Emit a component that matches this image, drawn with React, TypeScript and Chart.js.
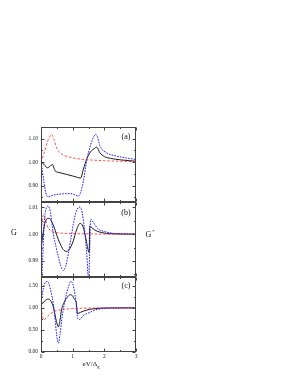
import React, { useEffect, useRef } from "react";
import { Chart, registerables } from "chart.js";
Chart.register(...registerables);

// axis ticks
const xTickValues = [0, 1, 2, 3];
const aTicks = [0.9, 1.0, 1.1];
const bTicks = [0.99, 1.0, 1.01];
const cTicks = [0, 0.5, 1.0, 1.5];
const aRange = [0.83, 1.15];
const bRange = [0.984, 1.012];
const cRange = [0, 1.7];
const panelLabels = ["(a)", "(b)", "(c)"];

// panel (a)
const aBlackX = [0, 0.1, 0.2, 0.28, 0.36, 0.44, 0.6, 0.8, 1.0, 1.15, 1.25, 1.34, 1.44, 1.57, 1.68, 1.76, 1.86, 2.0, 2.2, 2.5, 3.0];
const aBlackY = [1.0, 0.99, 0.976, 0.982, 0.99, 0.964, 0.955, 0.948, 0.941, 0.935, 0.932, 0.97, 1.013, 1.045, 1.058, 1.064, 1.04, 1.024, 1.016, 1.01, 1.004];
const aRedX = [0, 0.1, 0.2, 0.28, 0.34, 0.4, 0.5, 0.6, 0.75, 0.92, 1.2, 1.5, 2.0, 2.5, 3.0];
const aRedY = [1.0, 1.04, 1.085, 1.11, 1.118, 1.1, 1.06, 1.04, 1.028, 1.021, 1.014, 1.01, 1.006, 1.004, 1.002];
const aBlueX = [0, 0.08, 0.15, 0.22, 0.35, 0.5, 0.7, 0.9, 1.05, 1.18, 1.25, 1.34, 1.44, 1.57, 1.65, 1.72, 1.78, 1.86, 2.07, 2.39, 3.0];
const aBlueY = [1.0, 0.93, 0.87, 0.852, 0.858, 0.862, 0.865, 0.866, 0.862, 0.855, 0.87, 0.92, 1.004, 1.075, 1.105, 1.118, 1.11, 1.07, 1.04, 1.026, 1.011];

// panel (b)
const bBlackX = [0, 0.05, 0.12, 0.2, 0.26, 0.32, 0.4, 0.5, 0.6, 0.7, 0.81, 0.92, 1.02, 1.12, 1.23, 1.32, 1.41, 1.47, 1.52, 1.54, 1.6, 1.7, 1.85, 2.0, 2.3, 3.0];
const bBlackY = [0.9944, 0.999, 1.004, 1.0058, 1.0059, 1.005, 1.003, 0.9995, 0.9965, 0.9943, 0.9935, 0.9948, 0.9975, 1.0015, 1.004, 1.003, 0.9988, 0.995, 0.9932, 1.003, 1.0025, 1.0015, 1.0008, 1.0004, 1.0001, 1.0];
const bRedX = [0, 0.04, 0.08, 0.14, 0.2, 0.28, 0.4, 0.6, 1.0, 1.5, 2.0, 3.0];
const bRedY = [1.0, 1.005, 1.0072, 1.0055, 1.003, 1.0015, 1.0008, 1.0004, 1.0002, 1.0001, 1.0, 1.0];
const bBlueX = [0, 0.05, 0.1, 0.16, 0.23, 0.3, 0.39, 0.47, 0.55, 0.63, 0.7, 0.78, 0.86, 0.94, 1.02, 1.1, 1.17, 1.23, 1.3, 1.36, 1.41, 1.46, 1.5, 1.53, 1.57, 1.62, 1.7, 1.8, 2.0, 2.3, 3.0];
const bBlueY = [0.978, 0.99, 1.004, 1.0095, 1.0105, 1.008, 1.0, 0.9955, 0.9914, 0.988, 0.9864, 0.988, 0.9925, 0.998, 1.0037, 1.008, 1.0098, 1.0101, 1.008, 1.003, 0.9975, 0.99, 0.982, 0.99, 1.0056, 1.005, 1.0035, 1.002, 1.001, 1.0003, 1.0];

// panel (c)
const cBlackX = [0, 0.05, 0.12, 0.23, 0.3, 0.39, 0.47, 0.55, 0.6, 0.65, 0.75, 0.85, 0.92, 1.0, 1.05, 1.11, 1.15, 1.25, 1.44, 1.6, 1.8, 2.2, 3.0];
const cBlackY = [1.18, 1.1, 1.16, 1.2, 1.17, 1.02, 0.75, 0.57, 0.72, 0.96, 1.15, 1.26, 1.3, 1.27, 1.2, 1.13, 0.87, 0.9, 0.95, 0.975, 0.99, 0.998, 1.0];
const cRedX = [0, 0.04, 0.09, 0.15, 0.22, 0.3, 0.4, 0.5, 0.65, 0.8, 1.0, 1.3, 1.7, 2.2, 3.0];
const cRedY = [1.1, 0.85, 0.73, 0.76, 0.82, 0.87, 0.91, 0.94, 0.96, 0.975, 0.985, 0.992, 0.997, 1.0, 1.0];
const cBlueX = [0, 0.05, 0.1, 0.18, 0.25, 0.32, 0.39, 0.45, 0.5, 0.55, 0.6, 0.65, 0.7, 0.78, 0.86, 0.94, 1.0, 1.07, 1.12, 1.16, 1.22, 1.34, 1.45, 1.55, 1.7, 1.9, 2.2, 3.0];
const cBlueY = [1.1, 1.35, 1.52, 1.6, 1.55, 1.35, 1.09, 0.7, 0.35, 0.2, 0.4, 0.7, 0.94, 1.25, 1.46, 1.6, 1.55, 1.32, 1.05, 0.76, 0.74, 0.83, 0.87, 0.9, 0.95, 0.98, 0.995, 1.0];

const pts = (xs: number[], ys: number[]) => xs.map((x, i) => ({ x, y: ys[i] }));

const SERIF = '"Liberation Serif", "Times New Roman", serif';

const panels: [string, number[], number][] = [
  ["ya", aTicks, 0.05],
  ["yb", bTicks, 0.005],
  ["yc", cTicks, 0.25],
];

const framePlugin = {
  id: "frames",
  beforeDatasetDraw(chart: any, args: any) {
    const ds = chart.data.datasets[args.index];
    const s = chart.scales[ds.yAxisID];
    const a = chart.chartArea;
    const ctx = chart.ctx;
    ctx.save();
    ctx.beginPath();
    ctx.rect(a.left, s.top, a.right - a.left, s.bottom - s.top);
    ctx.clip();
  },
  afterDatasetDraw(chart: any) {
    chart.ctx.restore();
  },
  afterDraw(chart: any) {
    const ctx = chart.ctx;
    const a = chart.chartArea;
    const xs = chart.scales.x;
    ctx.save();
    ctx.strokeStyle = "#444";
    ctx.lineWidth = 1;
    const left = Math.round(a.left) + 0.5;
    const right = Math.round(a.right) - 0.5;
    for (const [id, major, step] of panels) {
      const s = chart.scales[id];
      const top = Math.round(s.top) + 0.5;
      const bottom = Math.round(s.bottom) - 0.5;
      ctx.strokeRect(left, top, right - left, bottom - top);
      ctx.beginPath();
      const start = Math.ceil(s.min / step - 1e-6) * step;
      for (let v = start; v <= s.max + 1e-9; v += step) {
        const isMajor = major.some((m) => Math.abs(m - v) < step / 10);
        const len = isMajor ? 3 : 1.5;
        const y = Math.round(s.getPixelForValue(v)) + 0.5;
        ctx.moveTo(left, y);
        ctx.lineTo(left + len, y);
        ctx.moveTo(right, y);
        ctx.lineTo(right - len, y);
      }
      for (let v = 0; v <= 3 + 1e-9; v += 0.5) {
        const isMajor = Math.abs(v - Math.round(v)) < 0.01;
        const len = isMajor ? 3 : 1.5;
        const x = Math.round(xs.getPixelForValue(v)) + 0.5;
        ctx.moveTo(x, bottom);
        ctx.lineTo(x, bottom - len);
        ctx.moveTo(x, top);
        ctx.lineTo(x, top + len);
      }
      ctx.stroke();
    }
    ctx.restore();
  },
};

function yScale(range: number[], ticks: number[]) {
  return {
    type: "linear" as const,
    position: "left" as const,
    stack: "panels",
    stackWeight: 1,
    min: range[0],
    max: range[1],
    afterBuildTicks: (s: any) => {
      s.ticks = ticks.map((v) => ({ value: v }));
    },
    afterFit: (s: any) => {
      s.width = 20;
    },
    grid: { display: false, drawTicks: false },
    border: { display: false },
    ticks: {
      autoSkip: false,
      padding: 3,
      color: "#222",
      font: { family: SERIF, size: 5.5 },
      callback: (v: any) => Number(v).toFixed(2),
    },
  };
}

function line(data: any[], axis: string, kind: "black" | "red" | "blue") {
  const style =
    kind === "black"
      ? { borderColor: "#000000", borderWidth: 0.9, borderDash: [] as number[] }
      : kind === "red"
      ? { borderColor: "#ff2020", borderWidth: 0.8, borderDash: [2.5, 1.8] }
      : { borderColor: "#1a1aff", borderWidth: 1.0, borderDash: [1.6, 1.2] };
  return {
    data,
    yAxisID: axis,
    pointRadius: 0,
    fill: false,
    cubicInterpolationMode: "monotone" as const,
    clip: false as const,
    ...style,
  };
}

export default function App() {
  const ref = useRef<HTMLCanvasElement>(null);
  useEffect(() => {
    if (!ref.current) return;
    const chart = new Chart(ref.current, {
      type: "line",
      data: {
        datasets: [
          line(pts(aRedX, aRedY), "ya", "red"),
          line(pts(aBlueX, aBlueY), "ya", "blue"),
          line(pts(aBlackX, aBlackY), "ya", "black"),
          line(pts(bRedX, bRedY), "yb", "red"),
          line(pts(bBlueX, bBlueY), "yb", "blue"),
          line(pts(bBlackX, bBlackY), "yb", "black"),
          line(pts(cRedX, cRedY), "yc", "red"),
          line(pts(cBlueX, cBlueY), "yc", "blue"),
          line(pts(cBlackX, cBlackY), "yc", "black"),
        ] as any,
      },
      options: {
        responsive: false,
        animation: false,
        events: [],
        layout: { padding: { left: 21, right: 155, top: 127, bottom: 12 } },
        plugins: { legend: { display: false }, tooltip: { enabled: false }, title: { display: false } },
        scales: {
          x: {
            type: "linear",
            position: "bottom",
            min: 0,
            max: 3,
            afterBuildTicks: (s: any) => {
              s.ticks = xTickValues.map((v) => ({ value: v }));
            },
            afterFit: (s: any) => {
              s.height = 12;
            },
            grid: { display: false, drawTicks: false },
            border: { display: false },
            ticks: {
              autoSkip: false,
              padding: 1,
              maxRotation: 0,
              color: "#222",
              font: { family: SERIF, size: 5.5 },
              callback: (v: any) => String(v),
            },
          },
          yc: yScale(cRange, cTicks),
          yb: yScale(bRange, bTicks),
          ya: yScale(aRange, aTicks),
        } as any,
      },
      plugins: [framePlugin],
    });
    return () => chart.destroy();
  }, []);

  const txt = (left: number, top: number, size: number): React.CSSProperties => ({
    position: "absolute",
    left,
    top,
    transform: "translate(-50%, -50%)",
    fontFamily: SERIF,
    fontSize: size,
    lineHeight: 1,
    color: "#111",
    whiteSpace: "nowrap",
  });

  return (
    <div style={{ position: "fixed", left: 0, top: 0, width: 291, height: 376, background: "#fff" }}>
      <canvas ref={ref} width={291} height={376} style={{ display: "block", width: 291, height: 376 }} />
      <div style={txt(126, 137, 8)}>{panelLabels[0]}</div>
      <div style={txt(126, 213, 8)}>{panelLabels[1]}</div>
      <div style={txt(126, 286, 8)}>{panelLabels[2]}</div>
      <div style={txt(14, 233, 8)}>G</div>
      <div style={txt(150, 233.5, 8)}>
        G<span style={{ fontSize: 5, verticalAlign: "super", marginLeft: 0.5 }}>*</span>
      </div>
      <div style={txt(91, 365, 7)}>
        eV/Δ<span style={{ fontSize: 4.5, verticalAlign: "sub" }}>g</span>
      </div>
    </div>
  );
}
